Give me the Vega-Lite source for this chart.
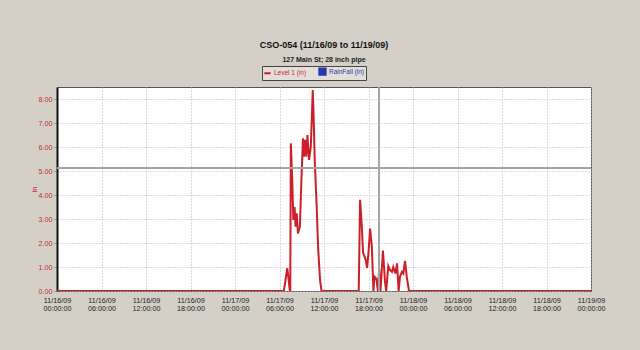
{
  "$schema": "https://vega.github.io/schema/vega-lite/v6.json",
  "autosize": {"type": "none"},
  "width": 534,
  "height": 204,
  "padding": {"left": 57, "top": 87, "right": 49, "bottom": 59},
  "background": "#d4d0c8",
  "config": {
    "font": "Liberation Sans",
    "view": {"stroke": "#555", "strokeWidth": 1, "fill": "white"}
  },
  "title": {
    "text": "CSO-054 (11/16/09 to 11/19/09)",
    "subtitle": "127 Main St; 28 inch pipe",
    "font": "Liberation Sans",
    "fontSize": 9,
    "fontWeight": "bold",
    "color": "#111",
    "subtitleFont": "Liberation Sans",
    "subtitleFontSize": 7,
    "subtitleFontWeight": "bold",
    "subtitleColor": "#222",
    "subtitlePadding": 6,
    "anchor": "middle",
    "offset": 3
  },
  "data": {
    "values": [
      {"time": "2009-11-16T00:00:00", "value": 0, "series": "Level 1 (in)"},
      {"time": "2009-11-17T06:35:00", "value": 0, "series": "Level 1 (in)"},
      {"time": "2009-11-17T07:03:00", "value": 0.95, "series": "Level 1 (in)"},
      {"time": "2009-11-17T07:24:00", "value": 0, "series": "Level 1 (in)"},
      {"time": "2009-11-17T07:27:00", "value": 0, "series": "Level 1 (in)"},
      {"time": "2009-11-17T07:32:00", "value": 6.15, "series": "Level 1 (in)"},
      {"time": "2009-11-17T07:43:00", "value": 4.6, "series": "Level 1 (in)"},
      {"time": "2009-11-17T07:52:00", "value": 2.96, "series": "Level 1 (in)"},
      {"time": "2009-11-17T08:02:00", "value": 3.5, "series": "Level 1 (in)"},
      {"time": "2009-11-17T08:10:00", "value": 2.68, "series": "Level 1 (in)"},
      {"time": "2009-11-17T08:19:00", "value": 3.24, "series": "Level 1 (in)"},
      {"time": "2009-11-17T08:29:00", "value": 2.4, "series": "Level 1 (in)"},
      {"time": "2009-11-17T08:45:00", "value": 2.68, "series": "Level 1 (in)"},
      {"time": "2009-11-17T08:57:00", "value": 4.6, "series": "Level 1 (in)"},
      {"time": "2009-11-17T09:10:00", "value": 6.36, "series": "Level 1 (in)"},
      {"time": "2009-11-17T09:18:00", "value": 5.6, "series": "Level 1 (in)"},
      {"time": "2009-11-17T09:26:00", "value": 6.3, "series": "Level 1 (in)"},
      {"time": "2009-11-17T09:37:00", "value": 5.6, "series": "Level 1 (in)"},
      {"time": "2009-11-17T09:46:00", "value": 6.5, "series": "Level 1 (in)"},
      {"time": "2009-11-17T09:59:00", "value": 5.46, "series": "Level 1 (in)"},
      {"time": "2009-11-17T10:13:00", "value": 6.0, "series": "Level 1 (in)"},
      {"time": "2009-11-17T10:21:00", "value": 7.1, "series": "Level 1 (in)"},
      {"time": "2009-11-17T10:29:00", "value": 8.37, "series": "Level 1 (in)"},
      {"time": "2009-11-17T10:37:00", "value": 7.1, "series": "Level 1 (in)"},
      {"time": "2009-11-17T10:45:00", "value": 5.46, "series": "Level 1 (in)"},
      {"time": "2009-11-17T11:01:00", "value": 3.5, "series": "Level 1 (in)"},
      {"time": "2009-11-17T11:12:00", "value": 1.85, "series": "Level 1 (in)"},
      {"time": "2009-11-17T11:28:00", "value": 0.46, "series": "Level 1 (in)"},
      {"time": "2009-11-17T11:40:00", "value": 0, "series": "Level 1 (in)"},
      {"time": "2009-11-17T16:41:00", "value": 0, "series": "Level 1 (in)"},
      {"time": "2009-11-17T16:52:00", "value": 3.8, "series": "Level 1 (in)"},
      {"time": "2009-11-17T17:06:00", "value": 2.68, "series": "Level 1 (in)"},
      {"time": "2009-11-17T17:16:00", "value": 1.6, "series": "Level 1 (in)"},
      {"time": "2009-11-17T17:38:00", "value": 1.29, "series": "Level 1 (in)"},
      {"time": "2009-11-17T17:49:00", "value": 0.96, "series": "Level 1 (in)"},
      {"time": "2009-11-17T17:59:00", "value": 1.55, "series": "Level 1 (in)"},
      {"time": "2009-11-17T18:13:00", "value": 2.6, "series": "Level 1 (in)"},
      {"time": "2009-11-17T18:27:00", "value": 1.85, "series": "Level 1 (in)"},
      {"time": "2009-11-17T18:40:00", "value": 0, "series": "Level 1 (in)"},
      {"time": "2009-11-17T18:48:00", "value": 0.6, "series": "Level 1 (in)"},
      {"time": "2009-11-17T19:04:00", "value": 0.5, "series": "Level 1 (in)"},
      {"time": "2009-11-17T19:16:00", "value": 0, "series": "Level 1 (in)"},
      {"time": "2009-11-17T19:26:00", "value": 0.96, "series": "Level 1 (in)"},
      {"time": "2009-11-17T19:37:00", "value": 0, "series": "Level 1 (in)"},
      {"time": "2009-11-17T19:57:00", "value": 1.68, "series": "Level 1 (in)"},
      {"time": "2009-11-17T20:13:00", "value": 0.42, "series": "Level 1 (in)"},
      {"time": "2009-11-17T20:23:00", "value": 0, "series": "Level 1 (in)"},
      {"time": "2009-11-17T20:40:00", "value": 1.04, "series": "Level 1 (in)"},
      {"time": "2009-11-17T20:54:00", "value": 0.88, "series": "Level 1 (in)"},
      {"time": "2009-11-17T21:10:00", "value": 0.8, "series": "Level 1 (in)"},
      {"time": "2009-11-17T21:20:00", "value": 1.0, "series": "Level 1 (in)"},
      {"time": "2009-11-17T21:37:00", "value": 0.73, "series": "Level 1 (in)"},
      {"time": "2009-11-17T21:51:00", "value": 1.15, "series": "Level 1 (in)"},
      {"time": "2009-11-17T22:04:00", "value": 0, "series": "Level 1 (in)"},
      {"time": "2009-11-17T22:15:00", "value": 0.6, "series": "Level 1 (in)"},
      {"time": "2009-11-17T22:31:00", "value": 0.8, "series": "Level 1 (in)"},
      {"time": "2009-11-17T22:42:00", "value": 0.73, "series": "Level 1 (in)"},
      {"time": "2009-11-17T22:56:00", "value": 1.26, "series": "Level 1 (in)"},
      {"time": "2009-11-17T23:09:00", "value": 0.6, "series": "Level 1 (in)"},
      {"time": "2009-11-17T23:28:00", "value": 0, "series": "Level 1 (in)"},
      {"time": "2009-11-19T00:00:00", "value": 0, "series": "Level 1 (in)"}
    ]
  },
  "layer": [
    {
      "mark": {"type": "line", "strokeWidth": 2, "clip": true},
      "encoding": {
        "x": {
          "field": "time",
          "type": "temporal",
          "scale": {"domain": [{"year": 2009, "month": 11, "date": 16}, {"year": 2009, "month": 11, "date": 19}]},
          "axis": {
            "title": null,
            "values": [
              {"year": 2009, "month": 11, "date": 16, "hours": 0},
              {"year": 2009, "month": 11, "date": 16, "hours": 6},
              {"year": 2009, "month": 11, "date": 16, "hours": 12},
              {"year": 2009, "month": 11, "date": 16, "hours": 18},
              {"year": 2009, "month": 11, "date": 17, "hours": 0},
              {"year": 2009, "month": 11, "date": 17, "hours": 6},
              {"year": 2009, "month": 11, "date": 17, "hours": 12},
              {"year": 2009, "month": 11, "date": 17, "hours": 18},
              {"year": 2009, "month": 11, "date": 18, "hours": 0},
              {"year": 2009, "month": 11, "date": 18, "hours": 6},
              {"year": 2009, "month": 11, "date": 18, "hours": 12},
              {"year": 2009, "month": 11, "date": 18, "hours": 18},
              {"year": 2009, "month": 11, "date": 19, "hours": 0}
            ],
            "labelExpr": "[timeFormat(datum.value, '%m/%d/%y'), timeFormat(datum.value, '%H:%M:%S')]",
            "labelFontSize": 7.2,
            "labelColor": "#222",
            "labelLineHeight": 8,
            "labelPadding": 5,
            "labelFlush": false,
            "labelOverlap": false,
            "grid": true,
            "gridColor": "#b8b8b8",
            "gridDash": [1, 2],
            "domain": false,
            "ticks": true,
            "tickSize": 0
          }
        },
        "y": {
          "field": "value",
          "type": "quantitative",
          "scale": {"domain": [0, 8.5], "nice": false},
          "axis": {
            "title": "in",
            "titleColor": "#c8282e",
            "titleFontSize": 7.5,
            "titleFontWeight": "normal",
            "titlePadding": 0,
            "values": [0, 1, 2, 3, 4, 5, 6, 7, 8],
            "tickCount": 9,
            "format": ".2f",
            "labelColor": "#c8282e",
            "labelFontSize": 7.2,
            "labelPadding": 2,
            "labelOverlap": false,
            "tickSize": 3,
            "tickColor": "#999",
            "grid": true,
            "gridColor": "#b8b8b8",
            "gridDash": [1, 2],
            "domainColor": "#111",
            "domainWidth": 2
          }
        },
        "color": {
          "field": "series",
          "type": "nominal",
          "scale": {"domain": ["Level 1 (in)", "RainFall (in)"], "range": ["#cc1f2a", "#2b36a8"]},
          "legend": {
            "orient": "none",
            "legendX": 205,
            "legendY": -21,
            "direction": "horizontal",
            "title": null,
            "fillColor": "#e2dfd8",
            "strokeColor": "#444",
            "padding": 1,
            "labelFontSize": 6.5,
            "symbolSize": 40,
            "symbolStrokeWidth": 2,
            "columnPadding": 8,
            "labelOffset": 2,
            "encode": {
              "labels": {"update": {"fill": {"scale": "color", "field": "value"}}},
              "symbols": {"update": {
                "shape": {"signal": "datum.value === 'RainFall (in)' ? 'square' : 'stroke'"},
                "fill": {"signal": "datum.value === 'RainFall (in)' ? '#2b36a8' : 'transparent'"}
              }}
            }
          }
        }
      }
    },
    {
      "mark": {"type": "rule", "color": "#a4a4a4", "strokeWidth": 1},
      "encoding": {"y": {"datum": 5.125, "type": "quantitative"}}
    },
    {
      "mark": {"type": "rule", "color": "#a4a4a4", "strokeWidth": 1},
      "encoding": {"x": {"datum": {"year": 2009, "month": 11, "date": 17, "hours": 19, "minutes": 26}, "type": "temporal"}}
    }
  ]
}
